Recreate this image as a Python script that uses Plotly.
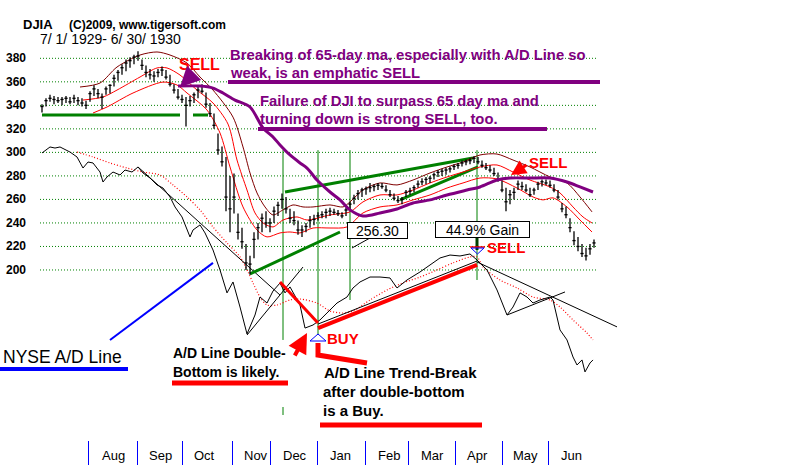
import plotly.graph_objects as go

# ---------------- data (x = trading-day index from 7/1/1929, y = DJIA points) ----------------
BAR_DAY = list(range(1, 278, 2))
BAR_LOW = [334, 339, 343, 341, 342, 340, 342, 341, 342, 340,
           339, 337, 343, 348, 346, 337, 349, 350, 356, 361,
           366, 369, 372, 375, 378, 370, 364, 362, 360, 364,
           365, 362, 356, 350, 345, 342, 322, 339, 342, 346,
           350, 338, 330, 320, 298, 288, 250, 232, 248, 226,
           218, 200, 196, 210, 226, 232, 236, 232, 240, 246,
           252, 248, 240, 238, 230, 228, 232, 236, 238, 242,
           244, 244, 246, 247, 246, 244, 246, 250, 256, 260,
           262, 264, 266, 267, 268, 269, 266, 262, 259, 257,
           256, 262, 264, 266, 270, 272, 273, 274, 277, 279,
           280, 281, 283, 285, 286, 288, 289, 290, 291, 290,
           287, 285, 283, 280, 275, 266, 250, 256, 260, 268,
           268, 266, 262, 264, 268, 271, 272, 270, 266, 260,
           249, 244, 232, 221, 216, 211, 208, 213, 219]
BAR_HIGH = [341, 346, 349, 348, 347, 347, 348, 347, 349, 347,
            346, 344, 352, 357, 354, 350, 356, 358, 366, 370,
            375, 379, 381, 383, 386, 379, 374, 371, 369, 371,
            373, 370, 366, 358, 354, 349, 347, 348, 351, 356,
            358, 351, 342, 333, 316, 305, 296, 280, 282, 248,
            236, 222, 212, 232, 240, 248, 250, 244, 254, 258,
            265, 262, 252, 250, 242, 238, 240, 246, 247, 249,
            250, 252, 253, 252, 251, 249, 253, 258, 264, 268,
            270, 271, 274, 273, 274, 274, 272, 268, 265, 263,
            262, 268, 270, 272, 276, 278, 279, 280, 283, 285,
            286, 287, 288, 290, 291, 293, 294, 295, 297, 296,
            293, 291, 289, 287, 283, 276, 270, 268, 270, 276,
            275, 273, 270, 270, 275, 277, 277, 276, 273, 268,
            257, 254, 244, 233, 228, 222, 219, 222, 226]
BAR_CLOSE = [339, 344, 346, 345, 344, 345, 346, 343, 346, 344,
             342, 340, 350, 354, 350, 347, 354, 357, 363, 368,
             372, 376, 378, 381, 382, 374, 368, 366, 365, 368,
             370, 364, 358, 353, 347, 345, 340, 344, 349, 353,
             352, 341, 333, 323, 302, 292, 262, 252, 262, 232,
             224, 206, 205, 226, 236, 244, 240, 240, 250, 255,
             260, 252, 244, 242, 234, 234, 237, 242, 243, 246,
             247, 249, 250, 249, 248, 246, 251, 256, 261, 265,
             268, 269, 270, 271, 272, 271, 268, 264, 261, 259,
             260, 266, 267, 270, 273, 275, 277, 278, 281, 283,
             284, 285, 286, 288, 289, 291, 292, 293, 295, 292,
             289, 287, 285, 282, 277, 268, 258, 264, 266, 273,
             271, 268, 264, 268, 273, 275, 274, 272, 268, 262,
             252, 247, 236, 225, 220, 214, 212, 218, 223]

MAROON_DAY = [20, 30, 38.5, 50, 58.5, 65, 73.5, 80, 86.5, 96.5,
              101.5, 105, 108.5, 112.5, 116.5, 121.5, 126.5, 131.5, 136.5, 145,
              151.5, 155, 161.5, 170, 178.5, 186.5, 195, 203.5, 211.5, 220,
              228.5, 236.5, 245, 255, 263.5, 270, 276]
MAROON_VAL = [355.6, 359.0, 372.6, 382.8, 385.4, 382.8, 376.0, 364.1, 353.0, 330.0,
              304.6, 282.5, 265.5, 253.6, 246.8, 251.1, 255.3, 253.6, 253.6, 255.3,
              253.6, 257.9, 268.1, 274.0, 272.3, 276.5, 282.5, 287.6, 291.8, 297.8,
              298.6, 293.5, 287.6, 279.1, 274.0, 262.1, 249.4]
MID_DAY = [21.5, 31.5, 38.5, 50, 58.5, 63.5, 70, 78.5, 86.5, 94,
           98.5, 103.5, 107.5, 111.5, 116.5, 121.5, 128.5, 133.5, 145, 155,
           161.5, 170, 178.5, 186.5, 195, 203.5, 211.5, 220, 228.5, 236.5,
           245, 255, 260, 266.5, 271.5, 276]
MID_VAL = [344.5, 347.1, 353.0, 364.1, 371.8, 371.8, 365.8, 353.0, 342.0, 324.1,
           293.5, 268.0, 248.5, 240.0, 236.6, 242.5, 245.1, 242.5, 246.8, 249.4,
           257.9, 263.8, 263.8, 268.0, 274.0, 279.1, 283.3, 287.6, 289.3, 283.3,
           276.5, 270.6, 265.5, 253.6, 245.1, 240.0]
LOWER_DAY = [26.5, 33.5, 46.5, 61.5, 68.5, 73.5, 83.5, 90, 95, 101.5,
             108.5, 113.5, 120, 125, 130, 136.5, 145, 153.5, 161.5, 170,
             178.5, 186.5, 195, 203.5, 211.5, 220, 228.5, 238.5, 246.5, 251.5,
             256.5, 263.5, 270, 276]
LOWER_VAL = [333.5, 338.6, 350.5, 359.8, 357.3, 350.5, 336.0, 316.5, 287.6, 253.6,
             234.0, 228.1, 231.5, 232.3, 231.5, 235.7, 235.7, 236.6, 248.5, 253.6,
             255.3, 259.6, 263.8, 269.7, 274.0, 278.2, 277.4, 269.7, 262.1, 259.6,
             261.3, 253.6, 242.5, 232.3]
MA65_DAY = [69, 80, 86.5, 91.5, 97.5, 105, 111.5, 116.5, 120, 125,
            130, 133.5, 138.5, 145, 150, 155, 161.5, 170, 178.5, 186.5,
            195, 203.5, 213.5, 220, 228.5, 235, 245, 255, 263.5, 270, 276.5]
MA65_VAL = [356.4, 356.4, 354.7, 350.5, 344.5, 338.6, 320.7, 313.1, 306.3, 297.8,
            291.0, 286.7, 276.5, 266.3, 259.6, 251.1, 245.9, 248.5, 251.9, 257.0,
            259.6, 263.8, 268.0, 270.6, 276.5, 278.2, 278.2, 278.2, 274.8, 270.6, 266.3]

AD_DAY = [1, 5, 7.5, 10, 15, 18.5, 21.5, 24, 26.5, 30,
          31.5, 33.5, 36.5, 40, 42.5, 46, 49, 51.5, 55, 58.5,
          61.5, 65, 67.5, 71, 75, 76.5, 80, 82.5, 86.5, 90,
          93.5, 96.5, 100, 103.5, 107.5, 110, 113.5, 116.5, 120, 122.5,
          125, 130, 132.5, 136.5, 140, 145, 148.5, 153.5, 156.5, 160,
          165, 170, 175, 178.5, 183.5, 190, 195, 200, 205, 210,
          215, 218.5, 223.5, 228.5, 233.5, 236.5, 240, 243.5, 246.5, 250,
          255, 256.5, 260, 263.5, 266.5, 268.5, 271, 272.5, 275, 276.5]
AD_VAL = [299.5, 304.6, 303.7, 304.6, 300.3, 296.1, 286.7, 291.8, 291.0, 283.3,
          274.8, 279.1, 283.3, 280.8, 285.0, 283.3, 287.6, 282.5, 278.2, 272.3,
          269.7, 262.1, 253.6, 245.1, 228.1, 234.0, 238.3, 231.5, 217.0, 200.0,
          180.5, 189.8, 168.5, 145.6, 161.7, 177.0, 171.9, 182.1, 188.9, 180.5,
          185.6, 170.2, 150.6, 153.2, 157.5, 166.0, 171.9, 177.0, 184.7, 189.8,
          194.0, 194.0, 193.2, 184.7, 191.5, 198.3, 204.3, 210.2, 212.7, 211.9,
          213.6, 208.5, 200.0, 183.0, 161.7, 168.5, 180.5, 177.0, 171.9, 174.5,
          177.0, 174.5, 149.0, 140.5, 126.0, 119.2, 123.5, 113.3, 120.9, 123.5]
ADMA_DAY = [18.5, 26.5, 35, 43.5, 51.5, 60, 66.5, 73.5, 80, 86.5,
            93.5, 100, 104, 106.5, 110, 113.5, 118.5, 125, 130, 138.5,
            145, 151.5, 156.5, 165, 173.5, 181.5, 190, 198.5, 206.5, 215,
            218.5, 221.5, 230, 238.5, 246.5, 255, 260, 266.5, 273.5, 276.5]
ADMA_VAL = [300.3, 296.1, 291.0, 286.7, 283.3, 280.8, 272.3, 262.1, 251.1, 236.6,
            223.0, 211.1, 198.3, 189.0, 177.0, 170.2, 170.2, 174.5, 175.3, 171.9,
            165.1, 163.4, 165.1, 174.5, 183.0, 189.0, 194.0, 200.0, 206.0, 211.1,
            211.1, 202.6, 191.5, 184.7, 177.0, 174.5, 168.5, 157.5, 146.4, 140.5]

# hand-drawn trend lines (day, points)
GREEN_SUPPORT_DAY = [1, 70, None, 76.5, 84]
GREEN_SUPPORT_VAL = [331.8, 331.8, None, 331.8, 331.8]
GREEN_A_DAY, GREEN_A_VAL = [105, 150], [196.6, 232.3]
GREEN_B_DAY, GREEN_B_VAL = [122.5, 216.5], [266.3, 295.2]
GREEN_C_DAY, GREEN_C_VAL = [180, 219], [259.6, 287.6]
BLACK_T1_DAY, BLACK_T1_VAL = [49, 120], [287.6, 178.7]
BLACK_T2_DAY, BLACK_T2_VAL = [103.5, 131.5], [144.7, 202.5]
BLACK_PAR_DAY, BLACK_PAR_VAL = [139, 218.5], [154.0, 207.6]
BLACK_T3_DAY, BLACK_T3_VAL = [218.5, 288.5], [206.8, 151.6]
BLACK_T4_DAY, BLACK_T4_VAL = [233.5, 262.5], [161.7, 181.3]
RED_DOWN_DAY, RED_DOWN_VAL = [120, 139], [189.8, 154.9]
RED_UP_DAY, RED_UP_VAL = [139, 218.5], [150.6, 204.3]
BLUE_DAY, BLUE_VAL = [35, 86.5], [140.5, 206.0]
POINTER_DAY, POINTER_VAL = [156, 165], [218.7, 227.2]
VERT_DAY = [121.5, 139, 155, 218.5]
VERT_TOP = [301.9, 301.9, 301.9, 301.9]
VERT_BOTTOM = [140.5, 144.7, 174.5, 191.5]

GRID_LEVELS = [200, 220, 240, 260, 280, 300, 320, 340, 360, 380]
MONTHS = ['Aug', 'Sep', 'Oct', 'Nov', 'Dec', 'Jan', 'Feb', 'Mar', 'Apr', 'May', 'Jun']
MONTH_LABEL_DAY = [36.5, 60, 82, 108, 127.5, 150, 174.5, 196, 218.5, 242.5, 265.5]
MONTH_START_DAY = [24, 48.5, 71, 96, 115, 138.5, 162.5, 184, 207.5, 231, 254]

# ---------------- layout helpers (pixel -> paper) ----------------
FIG_W, FIG_H, PLOT_BOTTOM = 800, 465, 440


def xp(px):
    return px / FIG_W


def yp(py):
    return 1 - py / PLOT_BOTTOM


PURPLE = '#800080'
RED = '#ff0000'
GREEN = '#008000'
MAROON = '#800000'
FONT = 'Liberation Sans, Arial, sans-serif'

fig = go.Figure()


def line_trace(x, y, color, width, dash=None, shape='linear'):
    fig.add_trace(go.Scatter(x=x, y=y, mode='lines', hoverinfo='skip', showlegend=False,
                             line=dict(color=color, width=width, dash=dash, shape=shape,
                                       smoothing=0.8 if shape == 'spline' else None)))


# gridlines
for v in GRID_LEVELS:
    fig.add_shape(type='line', xref='x', yref='y', x0=0, x1=279, y0=v, y1=v,
                  line=dict(color=GREEN, width=1, dash='1px,2px'), layer='below')

# green verticals
vx, vy = [], []
for d, t, b in zip(VERT_DAY, VERT_TOP, VERT_BOTTOM):
    vx += [d, d, None]
    vy += [t, b, None]
line_trace(vx, vy, GREEN, 1)

# A/D line and its moving average
line_trace(ADMA_DAY, ADMA_VAL, RED, 1.2, dash='1px,2px', shape='spline')
line_trace(AD_DAY, AD_VAL, 'black', 1)

# trend lines
line_trace(BLACK_T1_DAY, BLACK_T1_VAL, 'black', 1)
line_trace(BLACK_T2_DAY, BLACK_T2_VAL, 'black', 1)
line_trace(BLACK_PAR_DAY, BLACK_PAR_VAL, 'black', 1)
line_trace(BLACK_T3_DAY, BLACK_T3_VAL, 'black', 1)
line_trace(BLACK_T4_DAY, BLACK_T4_VAL, 'black', 1)
line_trace(POINTER_DAY, POINTER_VAL, 'black', 1)
line_trace(BLUE_DAY, BLUE_VAL, '#0000ff', 2)
line_trace(RED_DOWN_DAY, RED_DOWN_VAL, RED, 3)
line_trace(RED_UP_DAY, RED_UP_VAL, RED, 4)
line_trace(GREEN_SUPPORT_DAY, GREEN_SUPPORT_VAL, GREEN, 3)
line_trace(GREEN_A_DAY, GREEN_A_VAL, GREEN, 3)
line_trace(GREEN_B_DAY, GREEN_B_VAL, GREEN, 3)
line_trace(GREEN_C_DAY, GREEN_C_VAL, GREEN, 3)

# bands
line_trace(MAROON_DAY, MAROON_VAL, MAROON, 1, shape='spline')
line_trace(MID_DAY, MID_VAL, RED, 1, shape='spline')
line_trace(LOWER_DAY, LOWER_VAL, RED, 1, shape='spline')

# price bars
bx, by = [], []
for d, lo, hi, c in zip(BAR_DAY, BAR_LOW, BAR_HIGH, BAR_CLOSE):
    bx += [d, d, None, d - 0.8, d + 0.8, None]
    by += [lo, hi, None, c, c, None]
line_trace(bx, by, 'black', 1.3)

# 65-day ma
line_trace(MA65_DAY, MA65_VAL, PURPLE, 3, shape='spline')


# ---------------- texts ----------------
def txt(text, px, py, size, color='black', bold=True, anchor='left', family=FONT):
    fig.add_annotation(x=xp(px), y=yp(py), xref='paper', yref='paper',
                       text=f'<b>{text}</b>' if bold else text, showarrow=False,
                       xanchor=anchor, yanchor='middle',
                       font=dict(size=size, color=color, family=family))


def seg(x0, y0, x1, y1, color, width):
    fig.add_shape(type='line', xref='paper', yref='paper', x0=xp(x0), y0=yp(y0),
                  x1=xp(x1), y1=yp(y1), line=dict(color=color, width=width))


def path(points, color, width, fill=None):
    p = 'M ' + ' L '.join(f'{xp(a):.5f} {yp(b):.5f}' for a, b in points)
    if fill is not None:
        p += ' Z'
    fig.add_shape(type='path', xref='paper', yref='paper', path=p,
                  line=dict(color=color, width=width), fillcolor=fill)


def arrow(hx, hy, dx, dy, color, width):
    fig.add_annotation(x=xp(hx), y=yp(hy), xref='paper', yref='paper', text='',
                       showarrow=True, ax=dx, ay=dy, arrowhead=2, arrowsize=1,
                       arrowwidth=width, arrowcolor=color)


# header
txt('DJIA', 21, 25, 13)
txt('(C)2009, www.tigersoft.com', 67, 25, 12)
txt('7/ 1/ 1929- 6/ 30/ 1930', 38, 39, 14, bold=False)

# y labels
for v in GRID_LEVELS:
    fig.add_annotation(x=xp(28), y=v, xref='paper', yref='y', text=f'<b>{v}</b>',
                       showarrow=False, xanchor='right', yanchor='middle',
                       font=dict(size=12, color='black', family=FONT))

# purple commentary
txt('Breaking of 65-day ma, especially with A/D Line so', 228, 55, 14.8, PURPLE)
txt('weak, is an emphatic SELL', 228, 73, 14.8, PURPLE)
seg(228, 82, 600, 82, PURPLE, 4)
txt('Failure of DJI to surpass 65 day ma and', 258, 101, 14.8, PURPLE)
txt('turning down is strong SELL, too.', 258, 119, 14.8, PURPLE)
seg(258, 129, 547, 129, PURPLE, 4)

# sell signals
txt('SELL', 199, 65, 16, RED, anchor='center')
arrow(180, 87, 13, -13, PURPLE, 4)
txt('SELL', 548, 162, 15, RED, anchor='center')
arrow(511, 175, 17, -11, RED, 3)

# value boxes
fig.add_annotation(x=xp(377), y=yp(230), xref='paper', yref='paper', text='256.30',
                   showarrow=False, bgcolor='white', bordercolor='black', borderwidth=1,
                   borderpad=1, width=57, height=13, font=dict(size=14, color='black', family=FONT))
fig.add_annotation(x=xp(482), y=yp(229), xref='paper', yref='paper', text='44.9% Gain',
                   showarrow=False, bgcolor='white', bordercolor='black', borderwidth=1,
                   borderpad=1, width=91, height=13, font=dict(size=14, color='black', family=FONT))
seg(477, 238, 477, 250, '#004000', 3)
seg(470, 247, 485, 247, RED, 1.5)
path([(471, 248), (484, 248), (477.5, 254)], '#0000ff', 1, fill='rgba(0,0,0,0)')
txt('SELL', 506, 248, 15, RED, anchor='center')

# A/D annotations
txt('NYSE A/D Line', 1, 357, 17.5, bold=False)
seg(0, 369, 128, 369, '#0000ff', 4)
txt('A/D Line Double-', 171, 353, 14)
txt('Bottom is likely.', 171, 372, 14)
seg(172, 383, 288, 383, RED, 5)
arrow(307, 333, -13, 24, RED, 4)
txt('BUY', 343, 338, 15, RED, anchor='center')
path([(310, 341), (326, 341), (318, 334)], '#0000ff', 1, fill='rgba(0,0,0,0)')
path([(318, 343), (318, 355), (367, 363)], RED, 5)
txt('A/D Line Trend-Break', 322, 372, 15)
txt('after double-bottom', 321, 391, 15)
txt('is a Buy.', 321, 410, 15)
seg(320, 425, 482, 425, RED, 5)
seg(283, 407, 283, 415, GREEN, 1)

# month labels
for m, d in zip(MONTHS, MONTH_LABEL_DAY):
    fig.add_annotation(x=d, y=yp(455), xref='x', yref='paper', text=m, showarrow=False,
                       xanchor='center', yanchor='middle',
                       font=dict(size=13, color='black',
                                 family='Liberation Sans Narrow, Arial Narrow, Liberation Sans, sans-serif'))

fig.update_layout(
    width=FIG_W, height=FIG_H,
    margin=dict(l=0, r=0, t=0, b=FIG_H - PLOT_BOTTOM),
    paper_bgcolor='white', plot_bgcolor='white',
    showlegend=False,
    xaxis=dict(range=[-20, 380], showgrid=False, zeroline=False, showline=False,
               tickvals=MONTH_START_DAY, ticktext=[''] * len(MONTH_START_DAY),
               ticks='outside', ticklen=25, tickwidth=1, tickcolor='#0000ff', fixedrange=True),
    yaxis=dict(range=[55.4, 429.6], visible=False, fixedrange=True),
)

fig.write_html('out.html')
